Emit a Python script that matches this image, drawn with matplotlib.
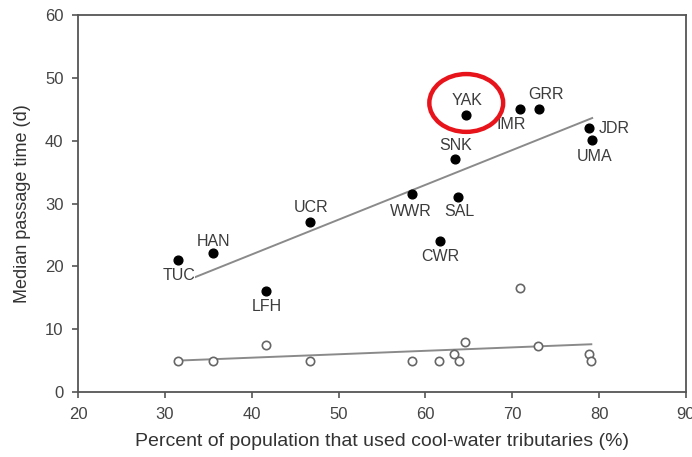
import numpy as np
import matplotlib.pyplot as plt
from matplotlib.patches import Ellipse

plt.rcParams['font.family'] = ['Liberation Sans', 'DejaVu Sans']

# filled points: median passage time vs % using cool-water tributaries
sites = ['TUC', 'HAN', 'LFH', 'UCR', 'WWR', 'CWR', 'SAL', 'SNK', 'YAK', 'IMR', 'GRR', 'JDR', 'UMA']
pct = [31.5, 35.5, 41.6, 46.7, 58.5, 61.7, 63.7, 63.4, 64.7, 70.9, 73.1, 78.8, 79.2]
days = [21.0, 22.1, 16.1, 27.1, 31.5, 24.0, 31.0, 37.1, 44.1, 45.0, 45.0, 42.0, 40.1]

# open circles (second response)
pct_open = [31.5, 35.5, 41.6, 46.7, 58.5, 61.6, 63.3, 63.9, 64.6, 70.9, 73.0, 78.8, 79.1]
days_open = [4.9, 4.9, 7.5, 4.9, 4.9, 4.9, 6.0, 4.9, 8.0, 16.5, 7.4, 6.0, 5.0]

# fitted lines (end points)
fit_x = [32.8, 79.2]
fit_y = [17.9, 43.6]
fit_open_x = [31.5, 79.1]
fit_open_y = [5.0, 7.6]

# label offsets in pixels (dx, dy)
offsets = [(1, -15), (1, 12), (1, -16), (1, 14), (-2, -17), (0, -15), (2, -14),
           (1, 13), (1, 14), (-9, -15), (7, 15), (26, 0), (2, -16)]

fig = plt.figure(figsize=(6.92, 4.57), dpi=100)
ax = fig.add_axes([0.1127, 0.1422, 0.8786, 0.825])

ax.plot(fit_x, fit_y, color='#8a8a8a', lw=1.4, zorder=1)
ax.plot(fit_open_x, fit_open_y, color='#8a8a8a', lw=1.4, zorder=1)

ax.plot(pct, days, 'o', color='black', ms=6.3, zorder=3)
ax.plot(pct_open, days_open, 'o', mfc='white', mec='#666666', mew=1.2, ms=6, zorder=3)

for s, x, y, (dx, dy) in zip(sites, pct, days, offsets):
    t = ax.annotate(s, (x, y), xytext=(dx, dy), textcoords='offset pixels',
                    ha='center', va='center', fontsize=11.5, color='#3c3c3c', zorder=4)
    if s == 'TUC':
        t.set_bbox(dict(facecolor='white', edgecolor='none', pad=0.1))

# red ring around YAK
ax.add_patch(Ellipse((64.7, 46.0), 8.5, 9.2, fill=False, edgecolor='#e8141b', lw=3.2, zorder=5))

ax.set_xlim(20, 90)
ax.set_ylim(0, 60)
ax.set_xticks(np.arange(20, 91, 10))
ax.set_yticks(np.arange(0, 61, 10))
ax.tick_params(direction='out', length=4.5, width=1.2, color='#555555',
               labelsize=12, labelcolor='#444444', pad=6)
for sp in ax.spines.values():
    sp.set_color('#555555')
    sp.set_linewidth(1.3)

ax.set_xlabel('Percent of population that used cool-water tributaries (%)',
              fontsize=14, color='#333333', labelpad=8)
ax.set_ylabel('Median passage time (d)', fontsize=13, color='#333333', labelpad=10)

fig.savefig('out.png', dpi=100)
